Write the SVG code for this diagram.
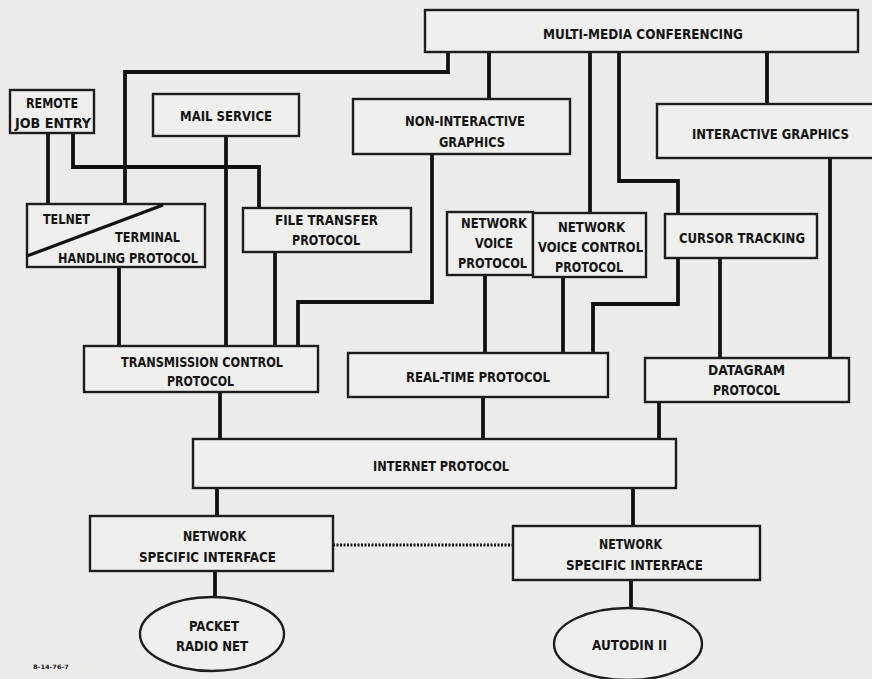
<svg xmlns="http://www.w3.org/2000/svg" width="872" height="679" viewBox="0 0 872 679">
<style>
.bg{fill:#ececeb}
.box{fill:#efefee;stroke:#1c1c1c;stroke-width:2.4}
.c{fill:none;stroke:#111;stroke-width:3.8;stroke-linejoin:miter}
.d{fill:none;stroke:#111;stroke-width:3.2;stroke-dasharray:2 1.5}
text{font-family:"DejaVu Sans Condensed","DejaVu Sans","Liberation Sans",sans-serif;font-weight:bold;font-size:14px;fill:#141414}
.s{font-size:6px}
</style>
<rect class="bg" x="0" y="0" width="872" height="679"/>
<g id="connectors">
<path class="c" d="M48,133 V204"/>
<path class="c" d="M73,133 V167 H259 V208"/>
<path class="c" d="M448,50 V72 H125 V204"/>
<path class="c" d="M119,267 V346"/>
<path class="c" d="M226,136 V346"/>
<path class="c" d="M275,252 V346"/>
<path class="c" d="M432,154 V302 H298 V346"/>
<path class="c" d="M489,52 V99"/>
<path class="c" d="M590,52 V213"/>
<path class="c" d="M619,52 V181 H678 V304 H593 V353"/>
<path class="c" d="M767,52 V104"/>
<path class="c" d="M830,157 V358"/>
<path class="c" d="M720,257 V358"/>
<path class="c" d="M485,275 V353"/>
<path class="c" d="M563,277 V353"/>
<path class="c" d="M220,392 V439"/>
<path class="c" d="M483,397 V439"/>
<path class="c" d="M659,402 V439"/>
<path class="c" d="M217,488 V516"/>
<path class="c" d="M633,488 V526"/>
<path class="c" d="M215,571 V597"/>
<path class="c" d="M631,580 V608"/>
<path class="d" d="M333,545 H513"/>
</g>
<g id="mmc"><rect class="box" x="425" y="10" width="433" height="42"/>
<text x="543" y="38.5" textLength="200" lengthAdjust="spacingAndGlyphs">MULTI-MEDIA CONFERENCING</text></g>
<g id="rje"><rect class="box" x="10" y="90" width="84" height="43"/>
<text x="26" y="108" textLength="52" lengthAdjust="spacingAndGlyphs">REMOTE</text>
<text x="15" y="127.5" textLength="76" lengthAdjust="spacingAndGlyphs">JOB ENTRY</text></g>
<g id="mail"><rect class="box" x="153" y="94" width="146" height="42"/>
<text x="180" y="121" textLength="92" lengthAdjust="spacingAndGlyphs">MAIL SERVICE</text></g>
<g id="nig"><rect class="box" x="353" y="99" width="217" height="55"/>
<text x="405" y="126" textLength="120" lengthAdjust="spacingAndGlyphs">NON-INTERACTIVE</text>
<text x="439" y="147" textLength="66" lengthAdjust="spacingAndGlyphs">GRAPHICS</text></g>
<g id="ig"><rect class="box" x="657" y="104" width="222" height="54"/>
<text x="692" y="139" textLength="157" lengthAdjust="spacingAndGlyphs">INTERACTIVE GRAPHICS</text></g>
<g id="telnet"><rect class="box" x="27" y="204" width="178" height="63"/>
<line x1="27" y1="256" x2="163" y2="205" stroke="#111" stroke-width="3.2"/>
<text x="43" y="224" textLength="47" lengthAdjust="spacingAndGlyphs">TELNET</text>
<text x="115" y="241.5" textLength="65" lengthAdjust="spacingAndGlyphs">TERMINAL</text>
<text x="58" y="262.5" textLength="140" lengthAdjust="spacingAndGlyphs">HANDLING PROTOCOL</text></g>
<g id="ftp"><rect class="box" x="243" y="208" width="168" height="44"/>
<text x="275" y="225" textLength="103" lengthAdjust="spacingAndGlyphs">FILE TRANSFER</text>
<text x="292" y="245" textLength="68" lengthAdjust="spacingAndGlyphs">PROTOCOL</text></g>
<g id="nvp"><rect class="box" x="447" y="212" width="86" height="63"/>
<text x="461" y="228" textLength="66" lengthAdjust="spacingAndGlyphs">NETWORK</text>
<text x="475" y="248" textLength="38" lengthAdjust="spacingAndGlyphs">VOICE</text>
<text x="458" y="268" textLength="69" lengthAdjust="spacingAndGlyphs">PROTOCOL</text></g>
<g id="nvcp"><rect class="box" x="533" y="213" width="113" height="64"/>
<text x="558" y="232" textLength="67" lengthAdjust="spacingAndGlyphs">NETWORK</text>
<text x="538" y="252" textLength="105" lengthAdjust="spacingAndGlyphs">VOICE CONTROL</text>
<text x="555" y="271.5" textLength="68" lengthAdjust="spacingAndGlyphs">PROTOCOL</text></g>
<g id="cursor"><rect class="box" x="665" y="214" width="152" height="44"/>
<text x="679" y="242.5" textLength="126" lengthAdjust="spacingAndGlyphs">CURSOR TRACKING</text></g>
<g id="tcp"><rect class="box" x="84" y="346" width="234" height="46"/>
<text x="121" y="366.5" textLength="162" lengthAdjust="spacingAndGlyphs">TRANSMISSION CONTROL</text>
<text x="167" y="385.5" textLength="67" lengthAdjust="spacingAndGlyphs">PROTOCOL</text></g>
<g id="rtp"><rect class="box" x="348" y="353" width="260" height="44"/>
<text x="406" y="381.5" textLength="144" lengthAdjust="spacingAndGlyphs">REAL-TIME PROTOCOL</text></g>
<g id="dgp"><rect class="box" x="645" y="358" width="204" height="44"/>
<text x="708" y="375" textLength="77" lengthAdjust="spacingAndGlyphs">DATAGRAM</text>
<text x="713" y="394.5" textLength="67" lengthAdjust="spacingAndGlyphs">PROTOCOL</text></g>
<g id="ip"><rect class="box" x="193" y="439" width="483" height="49"/>
<text x="373" y="471" textLength="136" lengthAdjust="spacingAndGlyphs">INTERNET PROTOCOL</text></g>
<g id="nsi1"><rect class="box" x="90" y="516" width="243" height="55"/>
<text x="183" y="541" textLength="63" lengthAdjust="spacingAndGlyphs">NETWORK</text>
<text x="139" y="561.5" textLength="137" lengthAdjust="spacingAndGlyphs">SPECIFIC INTERFACE</text></g>
<g id="nsi2"><rect class="box" x="513" y="526" width="247" height="54"/>
<text x="599" y="549" textLength="63" lengthAdjust="spacingAndGlyphs">NETWORK</text>
<text x="566" y="569.5" textLength="137" lengthAdjust="spacingAndGlyphs">SPECIFIC INTERFACE</text></g>
<g id="prn"><ellipse class="box" cx="212" cy="634" rx="72" ry="37"/>
<text x="189" y="630.5" textLength="50" lengthAdjust="spacingAndGlyphs">PACKET</text>
<text x="176" y="650.5" textLength="72" lengthAdjust="spacingAndGlyphs">RADIO NET</text></g>
<g id="autodin"><ellipse class="box" cx="628" cy="644" rx="74" ry="36"/>
<text x="592" y="649.5" textLength="75" lengthAdjust="spacingAndGlyphs">AUTODIN II</text></g>
<text class="s" x="33" y="669" textLength="36" lengthAdjust="spacingAndGlyphs">8-14-76-7</text>
</svg>
